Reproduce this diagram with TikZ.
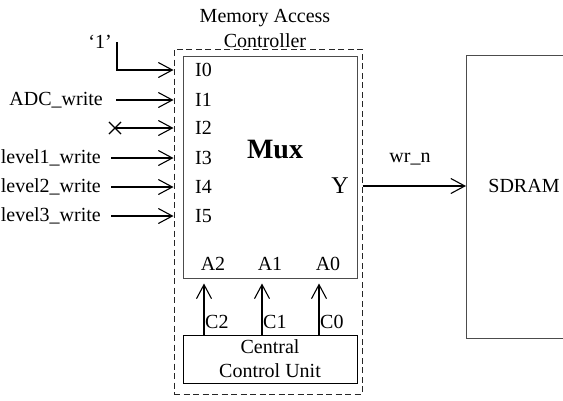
\documentclass[tikz,border=0pt]{standalone}
\usepackage{fontspec}
\setmainfont{Liberation Serif}
\usepackage{tikz}
\usetikzlibrary{arrows.meta}
\usetikzlibrary{shapes.misc}
\tikzset{ blk/.style = {rectangle, draw=black!70, line width=1pt, inner sep=0pt} }
\tikzset{ txt/.style = {inner sep=0pt, font=\fontsize{20}{23}\selectfont} }
\tikzset{ sig/.style = {line width=1.1pt, -{Straight Barb[length=14pt,width=15pt,line width=1.1pt]}} }

\begin{document}
\begin{tikzpicture}[x=1pt,y=-1pt]
    \clip (0,0) rectangle (563,400);
    \fill[white] (0,0) rectangle (563,400);
    % boxes
    \node[blk, dash pattern=on 6pt off 3.5pt, draw=black!85, minimum width=188, minimum height=345] (mac) at (268,221.5) {};
    \node[blk, minimum width=174, minimum height=222] (mux) at (270,167) {};
    \node[blk, draw=black, minimum width=174, minimum height=48, align=center, txt] (ccu) at (270,359) {Central\\[1pt]Control Unit};
    \node[txt, align=center] (title) at (265,28) {Memory Access\\[2pt]Controller};
    \draw[black!70, line width=1pt] (575,55) -- (466,55) -- (466,338) -- (575,338);
    \coordinate (sdw) at (466,186);
    \node[txt] (sdram) at (524,186) {SDRAM};
    % mux pins
    \node[txt, font=\fontsize{28}{30}\selectfont\bfseries] (mxl) at (275,149) {Mux};
    \foreach \k/\y in {0/70, 1/100, 2/128, 3/158, 4/187, 5/216}
        \node[txt, anchor=west] (in\k) at (195,\y) {I\k};
    \node[txt, font=\fontsize{24}{26}\selectfont] (yo) at (340,186) {Y};
    \node[txt] (a2) at (213,264) {A2};
    \node[txt] (a1) at (270,264) {A1};
    \node[txt] (a0) at (328,264) {A0};
    % inputs
    \node[txt] (one) at (100,42) {`1'};
    \coordinate (bend) at (117,42);
    \draw[sig] (bend) |- (mac.west |- in0);
    \node[txt, anchor=east] (adc) at (103,100) {ADC\_write};
    \draw[sig] ([xshift=13]adc.east) -- (mac.west |- in1);
    \node[cross out, draw, line width=1.1pt, minimum size=11pt, inner sep=0pt] (nc) at (115,128) {};
    \draw[sig] (nc.center) -- (mac.west |- in2);
    \foreach \n/\k/\y in {1/3/158, 2/4/187, 3/5/216} {
        \node[txt, anchor=east] (lv\n) at (101,\y) {level\n\_write};
        \draw[sig] ([xshift=10]lv\n.east) -- (mac.west |- in\k);
    }
    % output
    \draw[sig] (mac.east |- yo) -- (sdw);
    \node[txt] (wrn) at (410,159) {wr\_n};
    % selects
    \foreach \c/\x in {2/204, 1/262, 0/319} {
        \coordinate (cs\c) at (\x,335);
        \draw[sig, shorten >=5pt] (cs\c) -- (cs\c |- mux.south);
        \node[txt, anchor=west] (cl\c) at (\x+1,322) {C\c};
    }
\end{tikzpicture}
\end{document}
